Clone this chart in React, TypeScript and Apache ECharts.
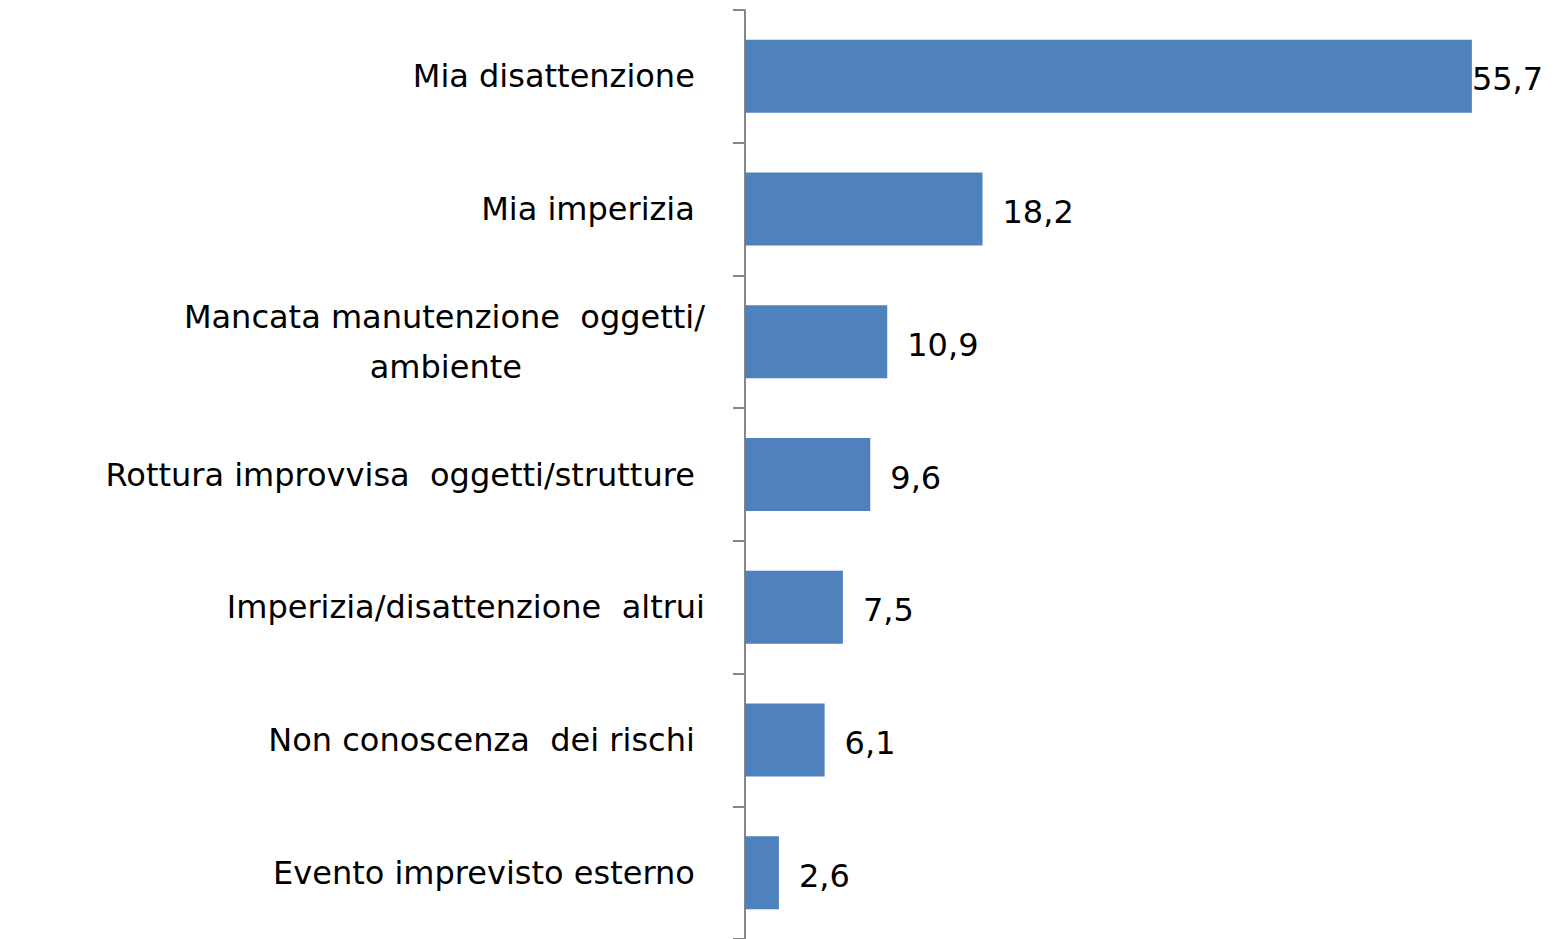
import React, { useEffect, useRef } from "react";
import * as echarts from "echarts";

const categories = [
  "Mia disattenzione ",
  "Mia imperizia ",
  "Mancata manutenzione  oggetti/\nambiente                  ",
  "Rottura improvvisa  oggetti/strutture ",
  "Imperizia/disattenzione  altrui",
  "Non conoscenza  dei rischi ",
  "Evento imprevisto esterno ",
];
const values = [55.7, 18.2, 10.9, 9.6, 7.5, 6.1, 2.6];

export default function App() {
  const ref = useRef<HTMLDivElement>(null);
  useEffect(() => {
    if (!ref.current) return;
    const chart = echarts.init(ref.current, null, { renderer: "svg" });
    chart.setOption({
      animation: false,
      grid: { left: 745, right: 28, top: 10, bottom: 0, containLabel: false },
      xAxis: { type: "value", min: 0, max: 60, show: false },
      yAxis: {
        type: "category",
        inverse: true,
        data: categories,
        axisLine: { show: true, lineStyle: { color: "#868686", width: 2 } },
        axisTick: { show: true, length: 12, lineStyle: { color: "#868686", width: 2 } },
        axisLabel: {
          margin: 40,
          fontFamily: "DejaVu Sans",
          fontSize: 32,
          color: "#000",
          lineHeight: 50,
        },
        splitLine: { show: false },
      },
      series: [
        {
          type: "bar",
          barCategoryGap: "45%",
          data: values.map((v, i) => ({
            value: v,
            label: { distance: i === 0 ? 0 : 20 },
          })),
          itemStyle: { color: "#4F81BD" },
          label: {
            show: true,
            position: "right",
            distance: 20,
            fontFamily: "DejaVu Sans",
            fontSize: 32,
            color: "#000",
            offset: [0, 3],
            formatter: (p: any) => String(p.value).replace(".", ","),
          },
        },
      ],
    });
    return () => chart.dispose();
  }, []);
  return (
    <div
      ref={ref}
      style={{ position: "fixed", left: 0, top: 0, width: 1556, height: 939, background: "#fff" }}
    />
  );
}
